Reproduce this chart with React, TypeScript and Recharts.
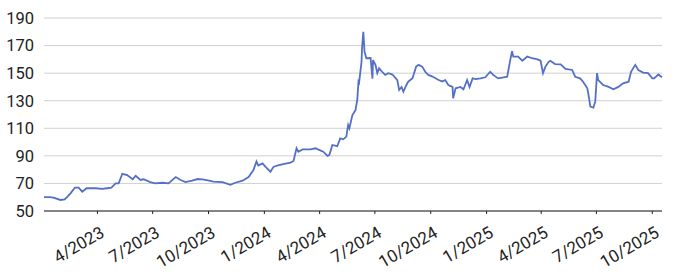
import React from 'react';
import { LineChart, Line, XAxis, YAxis, CartesianGrid } from 'recharts';

const dates = [
  '2023-01-03', '2023-01-13', '2023-01-20', '2023-01-30', '2023-02-06', '2023-02-10', '2023-02-16', '2023-02-23',
  '2023-03-01', '2023-03-07', '2023-03-14', '2023-03-29', '2023-04-09', '2023-04-17', '2023-04-24', '2023-05-01',
  '2023-05-06', '2023-05-12', '2023-05-20', '2023-05-29', '2023-06-03', '2023-06-11', '2023-06-16', '2023-06-27',
  '2023-07-05', '2023-07-17', '2023-07-27', '2023-08-08', '2023-08-16', '2023-08-24', '2023-09-04', '2023-09-13',
  '2023-09-21', '2023-10-02', '2023-10-09', '2023-10-24', '2023-11-06', '2023-11-14', '2023-11-26', '2023-12-06',
  '2023-12-14', '2023-12-19', '2023-12-22', '2023-12-29', '2024-01-03', '2024-01-11', '2024-01-16', '2024-01-22',
  '2024-02-01', '2024-02-13', '2024-02-18', '2024-02-23', '2024-02-26', '2024-03-04', '2024-03-17', '2024-03-25',
  '2024-04-02', '2024-04-07', '2024-04-14', '2024-04-17', '2024-04-22', '2024-04-30', '2024-05-05', '2024-05-10',
  '2024-05-15', '2024-05-18', '2024-05-20', '2024-05-25', '2024-05-30', '2024-06-02', '2024-06-04', '2024-06-05',
  '2024-06-09', '2024-06-10', '2024-06-12', '2024-06-14', '2024-06-17', '2024-06-24', '2024-06-27', '2024-06-28',
  '2024-07-02', '2024-07-05', '2024-07-08', '2024-07-13', '2024-07-18', '2024-07-23', '2024-07-30', '2024-08-07',
  '2024-08-10', '2024-08-14', '2024-08-17', '2024-08-22', '2024-08-25', '2024-09-01', '2024-09-07', '2024-09-11',
  '2024-09-17', '2024-09-22', '2024-09-27', '2024-10-04', '2024-10-14', '2024-10-20', '2024-10-25', '2024-10-30',
  '2024-11-06', '2024-11-07', '2024-11-11', '2024-11-19', '2024-11-24', '2024-11-30', '2024-12-04', '2024-12-09',
  '2024-12-14', '2024-12-22', '2024-12-30', '2025-01-07', '2025-01-12', '2025-01-20', '2025-01-29', '2025-02-04',
  '2025-02-09', '2025-02-12', '2025-02-14', '2025-02-22', '2025-03-01', '2025-03-09', '2025-03-17', '2025-03-26',
  '2025-03-31', '2025-04-04', '2025-04-08', '2025-04-13', '2025-04-16', '2025-04-24', '2025-05-03', '2025-05-11',
  '2025-05-22', '2025-05-27', '2025-06-04', '2025-06-09', '2025-06-16', '2025-06-18', '2025-06-21', '2025-06-26',
  '2025-06-29', '2025-07-02', '2025-07-04', '2025-07-12', '2025-07-21', '2025-07-29', '2025-08-06', '2025-08-14',
  '2025-08-23', '2025-08-27', '2025-09-03', '2025-09-08', '2025-09-16', '2025-09-24', '2025-10-01', '2025-10-04',
  '2025-10-11', '2025-10-17',
];

const prices = [
  60, 60, 59.5, 58, 58.5, 60, 63, 67,
  67, 64, 66.5, 66.5, 66, 66.5, 67, 70,
  70, 77, 76, 73, 75.5, 72.5, 73, 71,
  70, 70.5, 70, 74.6, 72.5, 71, 72, 73.2,
  73, 72, 71.3, 71, 69, 70.5, 72, 74.6,
  79.7, 86, 83, 84.5, 82, 78.5, 82, 83,
  84, 85, 86.3, 95.5, 93, 94.7, 94.7, 95.5,
  94, 93, 90, 90.6, 97.9, 97, 102.7, 102,
  104, 112.4, 110, 119.6, 123, 130.5, 143.8, 143,
  158, 169, 180, 165.6, 160.8, 161, 146, 159.5,
  156, 150, 153.5, 151, 148.7, 150, 149, 145,
  137.8, 140, 136.5, 141.4, 143.8, 146.3, 154.7, 156,
  154.7, 151, 148.7, 147.5, 145, 144, 145, 141.4,
  140, 131.8, 139, 140, 138.3, 145, 140, 146.2,
  145.7, 146.2, 147, 151, 148.7, 146.2, 147, 147.4,
  159.5, 166, 162, 162, 159, 162, 160.8, 160,
  159, 150, 154.7, 158, 159, 156.6, 156.3, 153,
  152.3, 147.4, 146.2, 143.8, 139, 134, 125.7, 125,
  129.3, 150, 145, 141.4, 140, 138.3, 140, 142.6,
  143.8, 151, 156, 152.3, 150.4, 150, 146.2, 146.2,
  149, 147,
];

const xTickDates = [
  '2023-04-01', '2023-07-01', '2023-10-01', '2024-01-01', '2024-04-01', '2024-07-01',
  '2024-10-01', '2025-01-01', '2025-04-01', '2025-07-01', '2025-10-01',
];

const yTicks = [50, 70, 90, 110, 130, 150, 170, 190];

const toTime = (s: string) => Date.UTC(+s.slice(0, 4), +s.slice(5, 7) - 1, +s.slice(8, 10));

const data = dates.map((d, i) => ({ t: toTime(d), price: prices[i] }));
const xTicks = xTickDates.map(toTime);

const fmtDate = (v: number) => {
  const d = new Date(v);
  return `${d.getUTCMonth() + 1}/${d.getUTCFullYear()}`;
};

const FONT = 'Roboto, sans-serif';

// rotated date label, anchored at its right end just below the tick
const DateTick = (props: any) => {
  const { x, y, payload } = props;
  return (
    <g transform={`translate(${x + 8},${y + 20})`}>
      <text
        x={0}
        y={0}
        transform="rotate(-30)"
        textAnchor="end"
        fill="#222"
        fontSize={17}
        fontFamily={FONT}
      >
        {fmtDate(payload.value)}
      </text>
    </g>
  );
};

const App: React.FC = () => {
  return (
    <div style={{ position: 'absolute', left: 0, top: 0, width: 676, height: 280, background: '#fff' }}>
      <LineChart width={676} height={280} data={data} margin={{ top: 18, right: 14, left: 0, bottom: 0 }}>
        <CartesianGrid vertical={false} stroke="#d0d0d0" />
        <XAxis
          dataKey="t"
          type="number"
          scale="time"
          domain={[data[0].t, data[data.length - 1].t]}
          ticks={xTicks}
          tick={<DateTick />}
          height={69}
          stroke="#222"
          tickSize={3}
          interval={0}
        />
        <YAxis
          domain={[50, 190]}
          ticks={yTicks}
          width={44}
          axisLine={false}
          tickLine={false}
          tickMargin={4}
          tick={{ fill: '#222', fontSize: 16.5, fontFamily: FONT }}
          interval={0}
        />
        <Line
          type="linear"
          dataKey="price"
          stroke="#5470c6"
          strokeWidth={1.8}
          dot={false}
          isAnimationActive={false}
        />
      </LineChart>
    </div>
  );
};

export default App;
